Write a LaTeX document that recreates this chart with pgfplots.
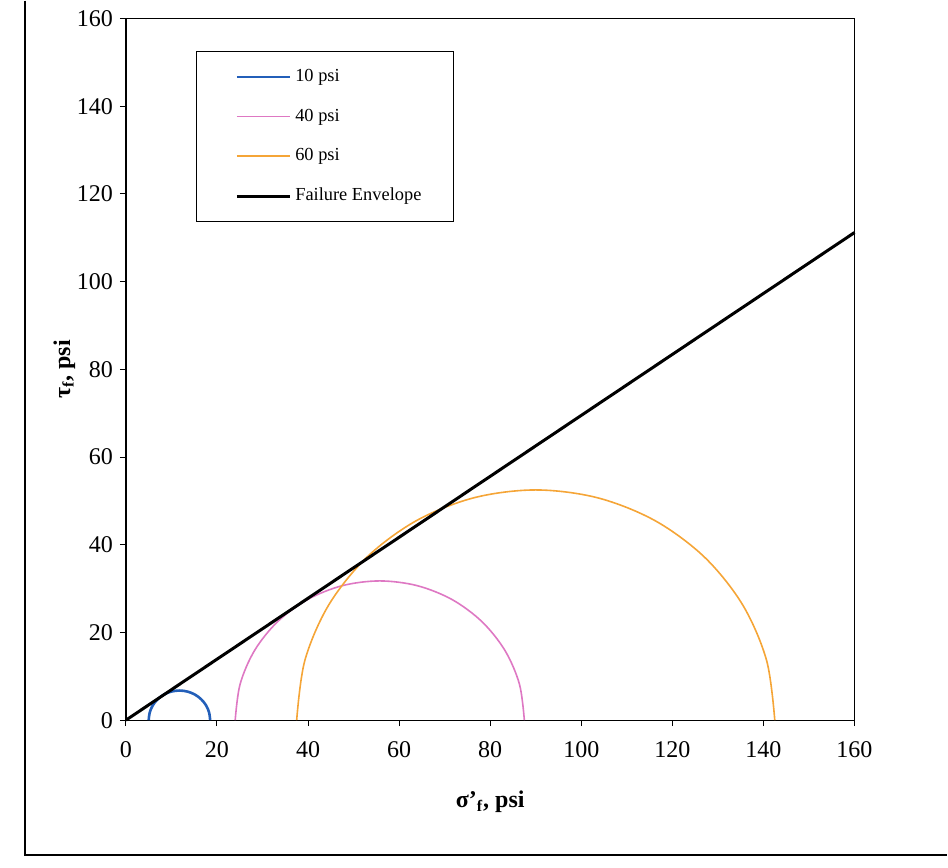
\documentclass[border=0pt]{standalone}
\usepackage{pgfplots}
\pgfplotsset{compat=1.18}
\usepackage{fontspec}
\setmainfont{Liberation Serif}
\definecolor{cblue}{RGB}{35,95,185}
\definecolor{cpink}{RGB}{222,120,195}
\definecolor{corange}{RGB}{245,165,55}
\begin{document}
\begin{tikzpicture}
\begin{axis}[
  at={(0,0)}, anchor=south west,
  scale only axis, width=364.5pt, height=351pt,
  xmin=0, xmax=160, ymin=0, ymax=160,
  xtick={0,20,...,160}, ytick={0,20,...,160},
  tick align=outside, major tick length=3pt,
  xtick pos=bottom, ytick pos=left,
  tick style={black, line width=0.5pt},
  axis line style={line width=0.6pt},
  /pgf/number format/assume math mode=true,
  ticklabel style={font=\fontsize{12}{14}\selectfont},
  xticklabel style={yshift=-4pt},
  xlabel={\textbf{σ'\textsubscript{f}, psi}},
  ylabel={\textbf{τ\textsubscript{f}, psi}},
  label style={font=\fontsize{12}{14}\selectfont},
  xlabel style={yshift=-10pt},
  ylabel style={yshift=-6pt},
  legend style={at={(0.096,0.954)}, anchor=north west, draw=black, line width=0.5pt,
    font=\fontsize{9.2}{11}\selectfont, inner xsep=14pt, inner ysep=7pt,
    row sep=8.2pt, cells={anchor=west}},
  legend image code/.code={\path (0pt,0pt); \draw[#1] (5.5pt,0pt) -- (32pt,0pt);},
  clip=false,
]
\addplot[cblue, line width=1.3pt, smooth, tension=0.55] coordinates {
(18.5,0) (18.27,1.75) (17.60,3.38) (16.52,4.77) (15.13,5.85) (13.50,6.52) (11.75,6.75)
(10.00,6.52) (8.38,5.85) (6.98,4.77) (5.90,3.38) (5.23,1.75) (5.0,0)};
\addlegendentry{10 psi}
\addplot[cpink, line width=0.8pt, smooth, tension=0.55] coordinates {
(87.5,0) (86.42,8.22) (83.25,15.88) (78.20,22.45) (71.63,27.50) (63.97,30.67) (55.75,31.75)
(47.53,30.67) (39.88,27.50) (33.30,22.45) (28.25,15.88) (25.08,8.22) (24.0,0)};
\addlegendentry{40 psi}
\addplot[corange, line width=0.8pt, smooth, tension=0.55] coordinates {
(142.5,0) (140.71,13.59) (135.47,26.25) (127.12,37.12) (116.25,45.47) (103.59,50.71) (90,52.5)
(76.41,50.71) (63.75,45.47) (52.88,37.12) (44.53,26.25) (39.29,13.59) (37.5,0)};
\addlegendentry{60 psi}
\addplot[black, line width=1.5pt] coordinates {(0,0) (160,111.2)};
\addlegendentry{Failure Envelope}
\end{axis}
\draw[line width=0.6pt] (-50.5pt,360pt) -- (-50.5pt,-67.5pt) -- (411pt,-67.5pt);
\useasboundingbox (-63pt,-73.5pt) rectangle (411pt,360pt);
\end{tikzpicture}
\end{document}
